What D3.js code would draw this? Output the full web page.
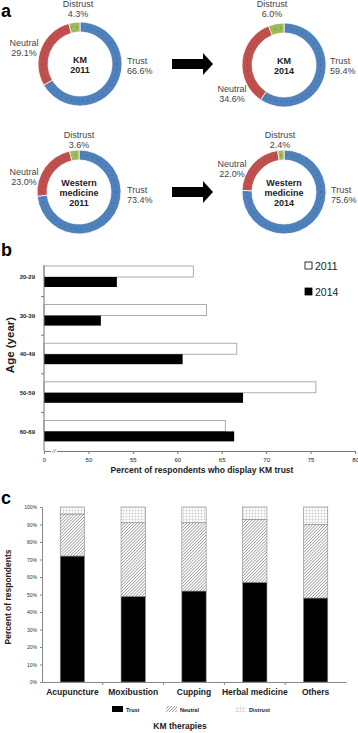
<!DOCTYPE html>
<html>
<head>
<meta charset="utf-8">
<script src="https://d3js.org/d3.v7.min.js"></script>
<style>
  body { margin: 0; background: #fff; }
  svg { display: block; font-family: "Liberation Sans", Arial, sans-serif; }
</style>
</head>
<body>
<script>
// ---- data ----
// panel a: share of respondents (%), order Trust / Neutral / Distrust
const attitudes = ["Trust", "Neutral", "Distrust"];
const km2011 = [66.6, 29.1, 4.3];
const km2014 = [59.4, 34.6, 6.0];
const wm2011 = [73.4, 23.0, 3.6];
const wm2014 = [75.6, 22.0, 2.4];

// panel b: percent of respondents who display KM trust by age group
const ageGroups = ["20-29", "30-39", "40-49", "50-59", "60-69"];
const years = ["2011", "2014"];
const trust2011 = [61.8, 63.3, 66.7, 75.6, 65.4];
const trust2014 = [53.2, 51.4, 60.6, 67.4, 66.4];
const ageTicks = [0, 50, 55, 60, 65, 70, 75, 80];

// panel c: attitude per KM therapy (%)
const therapies = ["Acupuncture", "Moxibustion", "Cupping", "Herbal medicine", "Others"];
const therTrust = [72, 49, 52, 57, 48];
const therNeutral = [24, 42, 39, 36, 42];
const therDistrust = [4, 9, 9, 7, 10];

const W = 358, H = 733;
const svg = d3.select("body").append("svg")
  .attr("width", W).attr("height", H);

// patterns for panel c
const defs = svg.append("defs");
const hatch = defs.append("pattern")
  .attr("id", "hatch").attr("patternUnits", "userSpaceOnUse")
  .attr("width", 2.2).attr("height", 2.2)
  .attr("patternTransform", "rotate(45)");
hatch.append("rect").attr("width", 2.2).attr("height", 2.2).attr("fill", "#fff");
hatch.append("line").attr("x1", 0).attr("y1", 0).attr("x2", 0).attr("y2", 2.2)
  .attr("stroke", "#666").attr("stroke-width", 1);

const dots = defs.append("pattern")
  .attr("id", "dots").attr("patternUnits", "userSpaceOnUse")
  .attr("width", 3).attr("height", 3);
dots.append("rect").attr("width", 3).attr("height", 3).attr("fill", "#fff");
dots.append("rect").attr("x", 0).attr("y", 0).attr("width", 3).attr("height", 0.8).attr("fill", "#ddd");
dots.append("rect").attr("x", 0).attr("y", 0).attr("width", 0.8).attr("height", 3).attr("fill", "#ddd");

// panel letters
const letter = (t, x, y) => svg.append("text").attr("x", x).attr("y", y)
  .attr("font-size", 18).attr("font-weight", "bold").text(t);
letter("a", 1, 16.5);
letter("b", 1, 256);
letter("c", 1, 504);

// ---- panel a: donuts ----
const donutColor = d3.scaleOrdinal().domain(attitudes)
  .range(["#4f81bd", "#c0504d", "#9bbb59"]);
const rOut = 42, rIn = 32;
const pie = d3.pie().sort(null).value(d => d.v);
const arc = d3.arc().innerRadius(rIn).outerRadius(rOut);

const donuts = [
  { vals: km2011, cx: 80, cy: 64, title: ["KM", "2011"],
    lab: { Trust: [127, 64, "start"], Neutral: [24, 46, "middle"], Distrust: [78, 7, "middle"] } },
  { vals: km2014, cx: 284, cy: 65, title: ["KM", "2014"],
    lab: { Trust: [330, 64, "start"], Neutral: [232, 92, "middle"], Distrust: [272, 7, "middle"] } },
  { vals: wm2011, cx: 79, cy: 192, title: ["Western", "medicine", "2011"],
    lab: { Trust: [127, 193, "start"], Neutral: [24, 175, "middle"], Distrust: [79, 138, "middle"] } },
  { vals: wm2014, cx: 284, cy: 192, title: ["Western", "medicine", "2014"],
    lab: { Trust: [331, 193, "start"], Neutral: [232, 167, "middle"], Distrust: [280, 138, "middle"] } }
];

donuts.forEach(dn => {
  const g = svg.append("g").attr("transform", `translate(${dn.cx},${dn.cy})`);
  const rows = attitudes.map((a, i) => ({ k: a, v: dn.vals[i] }));
  g.selectAll("path").data(pie(rows)).join("path")
    .attr("d", arc)
    .attr("fill", d => donutColor(d.data.k))
    .attr("stroke", "#fff").attr("stroke-width", 0.8);
  // dotted texture along the ring
  g.append("circle").attr("r", (rOut + rIn) / 2)
    .attr("fill", "none").attr("stroke", "#4a3a30")
    .attr("stroke-width", 1).attr("stroke-dasharray", "1 4.5")
    .attr("opacity", 0.65);
  // centre title
  const n = dn.title.length;
  dn.title.forEach((t, i) => {
    g.append("text").attr("x", 0).attr("y", (i - (n - 1) / 2) * 10 + 3.5)
      .attr("text-anchor", "middle").attr("font-size", 9)
      .attr("font-weight", "bold").attr("fill", "#222").text(t);
  });
  // segment labels
  rows.forEach(r => {
    const [x, y, anchor] = dn.lab[r.k];
    const t = svg.append("text").attr("x", x).attr("y", y)
      .attr("text-anchor", anchor).attr("font-size", 9).attr("fill", "#444");
    t.append("tspan").attr("x", x).text(r.k);
    t.append("tspan").attr("x", x).attr("dy", 9.5).text(d3.format(".1f")(r.v) + "%");
  });
});

// arrows between years
[64, 192].forEach(cy => {
  svg.append("path")
    .attr("d", `M172,${cy - 5}H203V${cy - 11}L213,${cy}L203,${cy + 11}V${cy + 5}H172Z`)
    .attr("fill", "#000");
});

// ---- panel b: horizontal bars ----
const bTop = 258, bBot = 451, bLeft = 44, bRight = 355;
const xb = d3.scaleLinear().domain([0, 50, 80])
  .range([bLeft, bLeft + (bRight - bLeft) / 7, bRight]);
const yb = d3.scaleBand().domain(ageGroups).range([bTop, bBot]);
const yIn = d3.scaleBand().domain(years).range([8, 30]);

const gb = svg.append("g");
ageGroups.forEach((a, i) => {
  const y0 = yb(a);
  gb.append("rect")
    .attr("x", xb(0)).attr("y", y0 + yIn("2011"))
    .attr("width", xb(trust2011[i]) - xb(0)).attr("height", yIn.bandwidth())
    .attr("fill", "#fff").attr("stroke", "#999").attr("stroke-width", 0.8);
  gb.append("rect")
    .attr("x", xb(0)).attr("y", y0 + yIn("2014"))
    .attr("width", xb(trust2014[i]) - xb(0)).attr("height", yIn.bandwidth() - 1)
    .attr("fill", "#000");
});

// y axis
gb.append("line").attr("x1", bLeft).attr("x2", bLeft)
  .attr("y1", 265).attr("y2", bBot).attr("stroke", "#777");
ageGroups.slice(1).forEach(a => {
  gb.append("line").attr("x1", bLeft - 3).attr("x2", bLeft)
    .attr("y1", yb(a)).attr("y2", yb(a)).attr("stroke", "#777");
});
const yAxisB = gb.append("g").attr("transform", `translate(${bLeft - 6},0)`)
  .call(d3.axisLeft(yb).tickSize(0));
yAxisB.select(".domain").remove();
yAxisB.selectAll("text").attr("font-size", 6).attr("font-weight", "bold")
  .attr("font-family", "Liberation Sans, Arial, sans-serif").attr("fill", "#222");

// x axis with break
const xAxisB = gb.append("g").attr("transform", `translate(0,${bBot})`)
  .call(d3.axisBottom(xb).tickValues(ageTicks).tickSize(3).tickPadding(4));
xAxisB.select(".domain").attr("stroke", "#777");
xAxisB.selectAll(".tick line").attr("stroke", "#777");
xAxisB.selectAll("text").attr("font-size", 6)
  .attr("font-family", "Liberation Sans, Arial, sans-serif").attr("fill", "#222");
gb.append("rect").attr("x", 51).attr("y", bBot - 2).attr("width", 6).attr("height", 4).attr("fill", "#fff");
gb.append("text").attr("x", 54).attr("y", bBot + 2).attr("text-anchor", "middle")
  .attr("font-size", 6).attr("font-style", "italic").attr("fill", "#555").text("//");

gb.append("text").attr("x", 202).attr("y", 473).attr("text-anchor", "middle")
  .attr("font-size", 8.5).attr("font-weight", "bold").attr("fill", "#222")
  .text("Percent of respondents who display KM trust");
gb.append("text").attr("transform", "translate(14,345) rotate(-90)")
  .attr("text-anchor", "middle").attr("font-size", 11.5)
  .attr("font-weight", "bold").attr("fill", "#222").text("Age (year)");

// legend
years.forEach((yr, i) => {
  const ly = 266 + i * 26;
  gb.append("rect").attr("x", 305).attr("y", ly - 4).attr("width", 7).attr("height", 7)
    .attr("fill", yr === "2011" ? "#fff" : "#000").attr("stroke", "#000").attr("stroke-width", 0.8);
  gb.append("text").attr("x", 315).attr("y", ly + 3.5)
    .attr("font-size", 10.5).attr("fill", "#222").text(yr);
});

// ---- panel c: stacked bars ----
const cLeft = 42, cRight = 346, cTop = 507, cBot = 682;
const xc = d3.scaleBand().domain(therapies).range([cLeft, cRight])
  .paddingInner(0.6).paddingOuter(0.3);
const yc = d3.scaleLinear().domain([0, 100]).range([cBot, cTop]);
const stackKeys = ["Trust", "Neutral", "Distrust"];
const stackRows = therapies.map((t, i) => ({
  name: t, Trust: therTrust[i], Neutral: therNeutral[i], Distrust: therDistrust[i]
}));
const series = d3.stack().keys(stackKeys)(stackRows);
const fillOf = { Trust: "#000", Neutral: "url(#hatch)", Distrust: "url(#dots)" };

const gc = svg.append("g");
gc.selectAll("g.s").data(series).join("g").attr("class", "s")
  .attr("fill", d => fillOf[d.key])
  .selectAll("rect").data(d => d).join("rect")
  .attr("x", d => xc(d.data.name))
  .attr("y", d => yc(Math.min(d[1], 100)))
  .attr("width", xc.bandwidth())
  .attr("height", d => yc(d[0]) - yc(Math.min(d[1], 100)))
  .attr("stroke", "#888").attr("stroke-width", 0.6);

const yAxisC = gc.append("g").attr("transform", `translate(${cLeft},0)`)
  .call(d3.axisLeft(yc).tickValues(d3.range(0, 101, 10))
    .tickFormat(d => d + "%").tickSize(2).tickPadding(3));
yAxisC.select(".domain").attr("stroke", "#888");
yAxisC.selectAll(".tick line").attr("stroke", "#888");
yAxisC.selectAll("text").attr("font-size", 5)
  .attr("font-family", "Liberation Sans, Arial, sans-serif").attr("fill", "#333");

const xAxisC = gc.append("g").attr("transform", `translate(0,${cBot})`)
  .call(d3.axisBottom(xc).tickSize(0).tickPadding(7));
xAxisC.select(".domain").attr("stroke", "#888");
xAxisC.selectAll("text").attr("font-size", 8.5).attr("font-weight", "bold")
  .attr("font-family", "Liberation Sans, Arial, sans-serif").attr("fill", "#222");
therapies.slice(1).forEach(t => {
  const bx = xc(t) - xc.step() * xc.paddingInner() / 2;
  gc.append("line").attr("x1", bx).attr("x2", bx)
    .attr("y1", cBot).attr("y2", cBot + 3).attr("stroke", "#888");
});

gc.append("text").attr("transform", "translate(11,597) rotate(-90)")
  .attr("text-anchor", "middle").attr("font-size", 8.5)
  .attr("font-weight", "bold").attr("fill", "#222").text("Percent of respondents");
gc.append("text").attr("x", 180).attr("y", 729).attr("text-anchor", "middle")
  .attr("font-size", 8.5).attr("font-weight", "bold").attr("fill", "#222")
  .text("KM therapies");

// legend
const legX = [112, 166, 235];
stackKeys.forEach((k, i) => {
  gc.append("rect").attr("x", legX[i]).attr("y", 706).attr("width", 11).attr("height", 6)
    .attr("fill", fillOf[k]);
  gc.append("text").attr("x", legX[i] + 14).attr("y", 712)
    .attr("font-size", 5.5).attr("font-weight", "bold").attr("fill", "#222").text(k);
});
</script>
</body>
</html>
